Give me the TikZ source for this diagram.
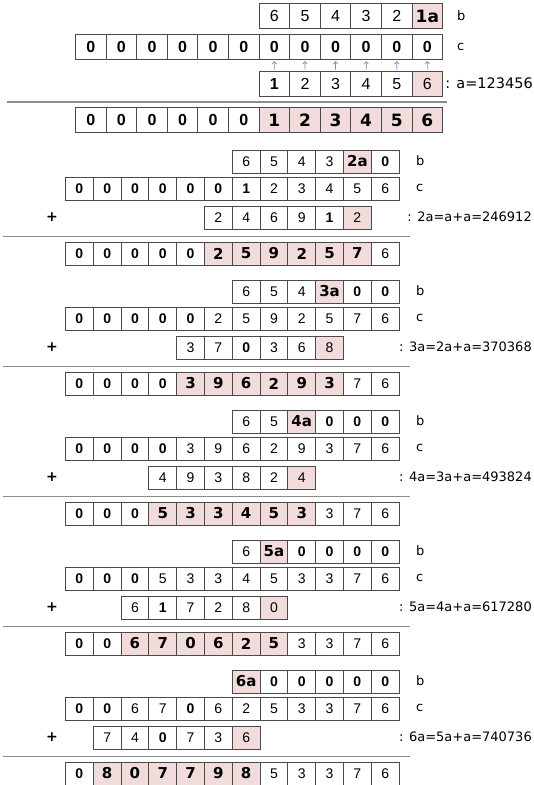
\documentclass[tikz,border=0pt]{standalone}
\usepackage{fontspec}
\setmainfont{Liberation Sans}
\newfontfamily\heavyfont{DejaVu Sans}
\newfontfamily\labelfont{DejaVu Sans}
\usetikzlibrary{arrows.meta}
\definecolor{pinkfill}{HTML}{F2DCDB}
\definecolor{cellline}{HTML}{4A4A4A}
\definecolor{rulecol}{HTML}{8C8C8C}
\definecolor{arrowcol}{HTML}{6F8FBF}
\newcommand\celldigit[1]{\ifnum#1<2 \bfseries\fi #1}
% #1 name, #2 x-left, #3 y-top, #4 width, #5 height, #6 first pink, #7 last pink, #8 pink style, #9 list
\newcommand\cellrow[9]{%
  \foreach \val [count=\ii] in {#9} {%
    \pgfmathsetmacro\cx{#2+(\ii-1)*#4}%
    \ifnum\ii<#6\relax
      \node[wcell,minimum width=#4pt,minimum height=#5pt] (#1-\ii) at (\cx,#3) {\celldigit{\val}};%
    \else\ifnum\ii>#7\relax
      \node[wcell,minimum width=#4pt,minimum height=#5pt] (#1-\ii) at (\cx,#3) {\celldigit{\val}};%
    \else
      \node[#8,minimum width=#4pt,minimum height=#5pt] (#1-\ii) at (\cx,#3) {\val};%
    \fi\fi
  }%
}
\begin{document}
\begin{tikzpicture}[x=1pt,y=-1pt,
  wcell/.style={draw=cellline,line width=0.9pt,fill=white,inner sep=0pt,anchor=north west,font=\cellsize},
  pcell/.style={wcell,fill=pinkfill},
  hcell/.style={wcell,fill=pinkfill,font=\heavyfont\bfseries\heavysize},
  rowlabel/.style={anchor=west,inner sep=0pt,font=\labelfont\fontsize{13}{13}\selectfont},
  eqlabel/.style={anchor=east,inner sep=0pt,font=\labelfont\fontsize{13}{13}\selectfont},
  plussign/.style={inner sep=0pt,font=\heavyfont\bfseries\fontsize{14}{14}\selectfont},
  rule/.style={draw=rulecol,line width=1.1pt},
  uparrow/.style={draw=arrowcol,line width=0.7pt,-{Straight Barb[length=2.5pt,width=4.5pt]},shorten <=1.5pt,shorten >=1.2pt}]
\fill[white] (0,0) rectangle (534,785);
\useasboundingbox (0,0) rectangle (534,785);

% ---------- section 1 ----------
\def\cellsize{\fontsize{16}{16}\selectfont}
\def\heavysize{\fontsize{17}{17}\selectfont}
\cellrow{s1b}{258.6}{3}{30.6}{25}{6}{6}{hcell}{6,5,4,3,2,1a}
\cellrow{s1c}{75}{34}{30.6}{25}{99}{0}{pcell}{0,0,0,0,0,0,0,0,0,0,0,0}
\cellrow{s1a}{258.6}{71}{30.6}{25}{6}{6}{pcell}{1,2,3,4,5,6}
\foreach \ii in {1,...,6}{
  \pgfmathtruncatemacro\jj{\ii+6}
  \draw[uparrow] (s1a-\ii.north) -- (s1c-\jj.south);
}
\draw[rule] (7,102) -- (447,102);
\cellrow{s1r}{75}{107}{30.6}{25}{7}{12}{hcell}{0,0,0,0,0,0,1,2,3,4,5,6}
\node[rowlabel] (s1lb) at (457,15.5) {b};
\node[rowlabel] (s1lc) at (457,46.5) {c};
\node[eqlabel,font=\labelfont\fontsize{14.5}{14.5}\selectfont] (s1eq) at (533,83.5) {: a=123456};

% ---------- sections 2-6 ----------
\def\cellsize{\fontsize{14}{14}\selectfont}
\def\heavysize{\fontsize{15}{15}\selectfont}

% section 2
\cellrow{s2b}{231.8}{149.5}{27.8}{23}{5}{5}{hcell}{6,5,4,3,2a,0}
\cellrow{s2c}{65}{176.5}{27.8}{23}{99}{0}{pcell}{0,0,0,0,0,0,1,2,3,4,5,6}
\cellrow{s2p}{204}{205.5}{27.8}{23}{6}{6}{pcell}{2,4,6,9,1,2}
\draw[rule] (3,236.5) -- (410,236.5);
\cellrow{s2r}{65}{241.5}{27.8}{23}{6}{11}{hcell}{0,0,0,0,0,2,5,9,2,5,7,6}
\node[rowlabel] (s2lb) at (416,161) {b};
\node[rowlabel] (s2lc) at (416,188) {c};
\node[plussign] (s2plus) at (52,217) {+};
\node[eqlabel] (s2eq) at (532,217) {: 2a=a+a=246912};

% section 3
\cellrow{s3b}{231.8}{279.5}{27.8}{23}{4}{4}{hcell}{6,5,4,3a,0,0}
\cellrow{s3c}{65}{306.5}{27.8}{23}{99}{0}{pcell}{0,0,0,0,0,2,5,9,2,5,7,6}
\cellrow{s3p}{176.2}{335.5}{27.8}{23}{6}{6}{pcell}{3,7,0,3,6,8}
\draw[rule] (3,366.5) -- (410,366.5);
\cellrow{s3r}{65}{371.5}{27.8}{23}{5}{10}{hcell}{0,0,0,0,3,9,6,2,9,3,7,6}
\node[rowlabel] (s3lb) at (416,291) {b};
\node[rowlabel] (s3lc) at (416,318) {c};
\node[plussign] (s3plus) at (52,347) {+};
\node[eqlabel] (s3eq) at (532,347) {: 3a=2a+a=370368};

% section 4
\cellrow{s4b}{231.8}{409.5}{27.8}{23}{3}{3}{hcell}{6,5,4a,0,0,0}
\cellrow{s4c}{65}{436.5}{27.8}{23}{99}{0}{pcell}{0,0,0,0,3,9,6,2,9,3,7,6}
\cellrow{s4p}{148.4}{465.5}{27.8}{23}{6}{6}{pcell}{4,9,3,8,2,4}
\draw[rule] (3,496.5) -- (410,496.5);
\cellrow{s4r}{65}{501.5}{27.8}{23}{4}{9}{hcell}{0,0,0,5,3,3,4,5,3,3,7,6}
\node[rowlabel] (s4lb) at (416,421) {b};
\node[rowlabel] (s4lc) at (416,448) {c};
\node[plussign] (s4plus) at (52,477) {+};
\node[eqlabel] (s4eq) at (532,477) {: 4a=3a+a=493824};

% section 5
\cellrow{s5b}{231.8}{539.5}{27.8}{23}{2}{2}{hcell}{6,5a,0,0,0,0}
\cellrow{s5c}{65}{566.5}{27.8}{23}{99}{0}{pcell}{0,0,0,5,3,3,4,5,3,3,7,6}
\cellrow{s5p}{120.6}{595.5}{27.8}{23}{6}{6}{pcell}{6,1,7,2,8,0}
\draw[rule] (3,626.5) -- (410,626.5);
\cellrow{s5r}{65}{631.5}{27.8}{23}{3}{8}{hcell}{0,0,6,7,0,6,2,5,3,3,7,6}
\node[rowlabel] (s5lb) at (416,551) {b};
\node[rowlabel] (s5lc) at (416,578) {c};
\node[plussign] (s5plus) at (52,607) {+};
\node[eqlabel] (s5eq) at (532,607) {: 5a=4a+a=617280};

% section 6
\cellrow{s6b}{231.8}{669.5}{27.8}{23}{1}{1}{hcell}{6a,0,0,0,0,0}
\cellrow{s6c}{65}{696.5}{27.8}{23}{99}{0}{pcell}{0,0,6,7,0,6,2,5,3,3,7,6}
\cellrow{s6p}{92.8}{725.5}{27.8}{23}{6}{6}{pcell}{7,4,0,7,3,6}
\draw[rule] (3,756.5) -- (410,756.5);
\cellrow{s6r}{65}{761.5}{27.8}{23}{2}{7}{hcell}{0,8,0,7,7,9,8,5,3,3,7,6}
\node[rowlabel] (s6lb) at (416,681) {b};
\node[rowlabel] (s6lc) at (416,708) {c};
\node[plussign] (s6plus) at (52,737) {+};
\node[eqlabel] (s6eq) at (532,737) {: 6a=5a+a=740736};
\end{tikzpicture}
\end{document}
